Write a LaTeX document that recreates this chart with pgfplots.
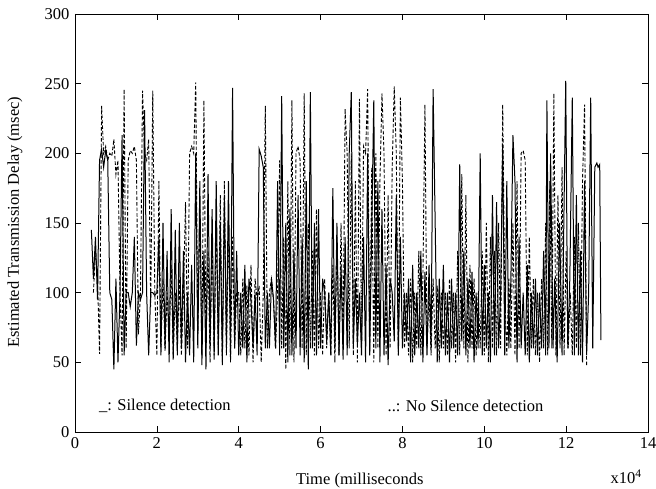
\documentclass[border=0pt]{standalone}
\usepackage{fontspec}
\setmainfont{Liberation Serif}
\usepackage{pgfplots}
\pgfplotsset{compat=1.18}
\begin{document}
\fontsize{16.5}{19}\selectfont
\begin{tikzpicture}
\useasboundingbox (-75pt,-57pt) rectangle (581pt,432pt);
\begin{axis}[
  at={(0,0)}, anchor=south west,
  scale only axis, width=573pt, height=418pt,
  xmin=0, xmax=14, ymin=0, ymax=300,
  xtick={0,2,...,14}, ytick={0,50,...,300},
  tick align=inside, major tick length=6pt,
  tick style={black, line width=0.6pt},
  axis line style={line width=0.7pt},
  /pgf/number format/assume math mode=true,
  ticklabel style={font=\fontsize{16.5}{19}\selectfont},
  clip mode=individual,
]
\addplot[black, line width=1pt] coordinates {
(0.40,145)(0.45,110)(0.50,140)(0.55,95)(0.60,195)(0.65,203)(0.70,190)(0.75,202)(0.80,195)(0.85,100)(0.90,95)(0.95,45)
(1.00,110)(1.05,50)(1.10,100)(1.15,213)(1.20,55)(1.25,100)(1.30,100)(1.35,90)(1.40,100)(1.45,140)(1.50,62)(1.55,100)(1.60,95)(1.65,100)(1.70,231)(1.75,100)(1.80,55)(1.85,100)(1.90,100)(1.95,98)
(2.00,100)(2.05,140)(2.10,55)(2.15,150)(2.20,60)(2.25,130)(2.30,50)(2.35,160)(2.40,52)(2.45,145)(2.50,55)(2.55,150)(2.60,60)(2.65,130)(2.70,50)(2.75,100)(2.80,55)(2.85,120)(2.90,50)(2.95,200)
(3.00,60)(3.05,180)(3.10,48)(3.15,130)(3.20,45)(3.25,185)(3.30,60)(3.35,160)(3.40,52)(3.45,180)(3.50,55)(3.55,150)(3.60,50)(3.65,170)(3.70,60)(3.75,180)(3.80,55)(3.85,247)(3.90,60)(3.95,130)
(4.00,55)(4.05,100)(4.10,60)(4.15,120)(4.20,50)(4.25,110)(4.30,95)(4.35,60)(4.40,100)(4.45,55)(4.50,203)(4.55,198)(4.60,190)(4.65,60)(4.70,100)(4.75,60)(4.80,110)(4.85,95)(4.90,60)(4.95,180)
(5.00,55)(5.05,241)(5.10,60)(5.15,150)(5.20,50)(5.25,160)(5.30,55)(5.35,130)(5.40,60)(5.45,170)(5.50,55)(5.55,140)(5.60,50)(5.65,180)(5.70,45)(5.75,244)(5.80,60)(5.85,150)(5.90,55)(5.95,160)
(6.00,60)(6.05,110)(6.10,100)(6.15,65)(6.20,100)(6.25,55)(6.30,175)(6.35,60)(6.40,150)(6.45,55)(6.50,120)(6.55,52)(6.60,140)(6.65,55)(6.70,200)(6.75,244)(6.80,60)(6.85,110)(6.90,63)(6.95,100)
(7.00,55)(7.05,140)(7.10,50)(7.15,200)(7.20,55)(7.30,238)(7.35,60)(7.40,180)(7.45,50)(7.50,160)(7.55,55)(7.60,120)(7.65,48)(7.70,110)(7.75,100)(7.80,65)(7.85,170)(7.90,55)(7.95,140)
(8.00,60)(8.05,100)(8.10,65)(8.15,110)(8.20,50)(8.25,120)(8.30,55)(8.35,100)(8.40,60)(8.45,130)(8.50,50)(8.55,115)(8.60,55)(8.65,120)(8.70,60)(8.75,246)(8.80,150)(8.85,50)(8.90,110)(8.95,60)
(9.00,120)(9.05,55)(9.10,100)(9.15,50)(9.20,110)(9.25,60)(9.30,100)(9.35,55)(9.40,192)(9.45,65)(9.50,130)(9.55,55)(9.60,110)(9.65,60)(9.70,115)(9.75,50)(9.80,100)(9.85,60)(9.90,200)(9.95,55)
(10.00,120)(10.05,60)(10.10,100)(10.15,50)(10.20,170)(10.25,55)(10.30,165)(10.35,60)(10.40,100)(10.45,205)(10.50,55)(10.55,180)(10.60,60)(10.65,110)(10.70,213)(10.75,180)(10.80,50)(10.85,140)(10.90,60)(10.95,100)
(11.00,55)(11.05,120)(11.10,50)(11.15,100)(11.20,60)(11.25,110)(11.30,55)(11.35,100)(11.40,60)(11.45,130)(11.50,55)(11.53,238)(11.58,60)(11.62,200)(11.68,60)(11.72,110)(11.78,50)(11.84,150)(11.90,55)(11.99,252)
(12.04,60)(12.09,110)(12.15,240)(12.20,55)(12.25,170)(12.30,55)(12.35,130)(12.40,50)(12.45,180)(12.50,55)(12.55,100)(12.60,240)(12.65,60)(12.70,190)(12.75,193)(12.78,190)(12.82,192)(12.85,66)
};
\addplot[black, line width=0.9pt, dash pattern=on 3.5pt off 2pt] coordinates {
(0.45,100)(0.50,130)(0.55,110)(0.60,56)(0.65,234)(0.70,200)(0.75,205)(0.80,195)(0.85,200)(0.90,198)(0.95,210)(1.00,185)(1.05,195)(1.10,100)(1.15,55)(1.20,246)(1.25,60)(1.30,195)(1.35,202)(1.40,200)(1.45,205)(1.50,195)(1.55,70)(1.60,100)(1.65,245)(1.70,200)(1.75,195)(1.80,210)(1.85,90)(1.90,245)(1.95,100)
(2.00,55)(2.05,180)(2.10,60)(2.15,110)(2.20,58)(2.25,100)(2.30,65)(2.35,120)(2.40,55)(2.45,100)(2.50,60)(2.55,110)(2.60,55)(2.65,100)(2.70,165)(2.75,60)(2.80,200)(2.85,205)(2.90,200)(2.95,251)
(3.00,70)(3.05,160)(3.10,55)(3.15,238)(3.20,60)(3.25,130)(3.30,50)(3.35,140)(3.40,55)(3.45,150)(3.50,60)(3.55,170)(3.60,48)(3.65,180)(3.70,55)(3.75,150)(3.80,50)(3.85,140)(3.90,60)(3.95,100)
(4.00,100)(4.05,55)(4.10,110)(4.15,60)(4.20,105)(4.25,55)(4.30,120)(4.35,50)(4.40,110)(4.45,95)(4.50,105)(4.55,50)(4.60,100)(4.65,234)(4.70,60)(4.75,100)(4.80,110)(4.85,95)(4.90,60)(4.95,100)
(5.00,195)(5.05,60)(5.10,140)(5.15,45)(5.20,180)(5.25,55)(5.30,238)(5.35,50)(5.40,200)(5.45,205)(5.50,195)(5.55,60)(5.60,243)(5.65,55)(5.70,150)(5.75,60)(5.80,130)(5.85,55)(5.90,160)(5.95,60)
(6.00,100)(6.05,55)(6.10,110)(6.15,60)(6.20,100)(6.25,55)(6.30,120)(6.35,50)(6.40,140)(6.45,55)(6.50,150)(6.55,60)(6.60,232)(6.65,200)(6.70,60)(6.75,200)(6.80,55)(6.85,180)(6.90,50)(6.95,239)
(7.00,60)(7.05,205)(7.10,200)(7.15,246)(7.20,55)(7.25,190)(7.30,50)(7.35,200)(7.40,60)(7.45,180)(7.50,243)(7.55,200)(7.60,55)(7.65,170)(7.70,60)(7.75,190)(7.80,248)(7.85,200)(7.90,55)(7.95,240)
(8.00,180)(8.05,60)(8.10,100)(8.15,55)(8.20,110)(8.25,50)(8.30,100)(8.35,60)(8.40,130)(8.45,55)(8.50,110)(8.55,235)(8.60,60)(8.65,100)(8.70,55)(8.75,110)(8.80,60)(8.85,105)(8.90,50)(8.95,100)
(9.00,60)(9.05,100)(9.10,55)(9.15,110)(9.20,60)(9.25,100)(9.30,50)(9.35,130)(9.40,55)(9.45,185)(9.50,60)(9.55,170)(9.60,50)(9.65,120)(9.70,60)(9.75,110)(9.80,55)(9.85,100)(9.90,60)(9.95,130)
(10.00,55)(10.05,150)(10.10,50)(10.15,140)(10.20,60)(10.25,130)(10.30,55)(10.35,150)(10.40,60)(10.45,235)(10.50,100)(10.55,55)(10.60,110)(10.65,60)(10.70,150)(10.75,55)(10.80,180)(10.85,60)(10.90,200)(10.95,202)
(11.00,195)(11.05,55)(11.10,140)(11.15,60)(11.20,110)(11.25,55)(11.30,100)(11.35,50)(11.40,110)(11.45,60)(11.50,150)(11.55,55)(11.60,180)(11.65,60)(11.70,243)(11.75,55)(11.80,170)(11.85,60)(11.90,190)(11.95,55)
(12.00,130)(12.05,60)(12.10,100)(12.15,55)(12.20,140)(12.25,60)(12.30,150)(12.35,55)(12.40,180)(12.45,235)(12.50,47)
};
\node[anchor=west, font=\fontsize{16.5}{19}\selectfont] at (axis cs:0.45,19) {\_: Silence detection};
\node[anchor=west, font=\fontsize{16.5}{19}\selectfont] at (axis cs:7.5,19) {..: No Silence detection};
\node[font=\fontsize{16.5}{19}\selectfont] at (axis description cs:0.497,-0.115) {Time (milliseconds};
\node[font=\fontsize{16.5}{19}\selectfont, inner sep=1pt] at (axis description cs:0.962,-0.108) {x10\textsuperscript{4}};
\node[rotate=90, font=\fontsize{16.5}{19}\selectfont] at (axis description cs:-0.105,0.502) {Estimated Transmission Delay (msec)};
\end{axis}
\end{tikzpicture}
\end{document}
